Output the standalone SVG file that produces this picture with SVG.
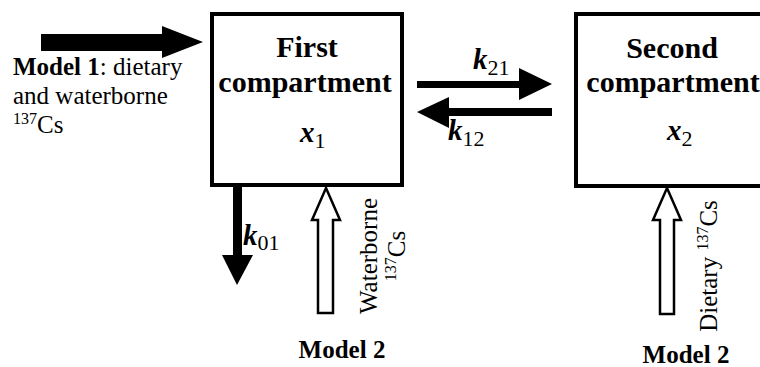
<svg xmlns="http://www.w3.org/2000/svg" width="760" height="367" viewBox="0 0 760 367" font-family="'Liberation Serif', 'DejaVu Serif', serif">
<style>
text{font-family:'Liberation Serif','DejaVu Serif',serif;fill:#000}
.box{fill:#fff;stroke:#000;stroke-width:4}
.lbl{font-size:30px;font-weight:bold;text-anchor:middle}
.txt{font-size:25px}
.var{font-size:29px;font-weight:bold;font-style:italic}
.sub{font-size:22px;font-weight:normal;font-style:normal}
.solid{fill:#000;stroke:none}
.hollow{fill:#fff;stroke:#000;stroke-width:2.5;stroke-linejoin:miter}
</style>
<rect width="760" height="367" fill="#fff"/>
<g id="connectors">
  <polygon class="solid" points="41,34 162,34 162,26 203,42 162,58 162,51 41,51"/>
  <polygon class="solid" points="417,81 519,81 519,68 552,84 519,100 519,88 417,88"/>
  <polygon class="solid" points="552,108 449,108 449,97 417,112 449,128 449,116 552,116"/>
  <polygon class="solid" points="233,185 242,185 242,255 253,255 237,285 222,255 233,255"/>
  <polygon class="hollow" points="326,188 340,220 333,220 333,313 318,313 318,220 312,220"/>
  <polygon class="hollow" points="667,188 681,220 674,220 674,314 660,314 660,220 653,220"/>
  <text class="var" x="473" y="69">k<tspan class="sub" dy="6">21</tspan></text>
  <text class="var" x="448" y="140">k<tspan class="sub" dy="6">12</tspan></text>
  <text class="var" x="243" y="245">k<tspan class="sub" dy="5">01</tspan></text>
</g>
<g id="model1-input">
  <text class="txt" x="13" y="75"><tspan font-weight="bold">Model 1</tspan>: dietary</text>
  <text class="txt" x="13" y="104">and waterborne</text>
  <text class="txt" x="13" y="133"><tspan font-size="16" dy="-9">137</tspan><tspan dy="9">Cs</tspan></text>
</g>
<g id="first-compartment">
  <rect class="box" x="212" y="14" width="190" height="171"/>
  <text class="lbl" x="307" y="57">First</text>
  <text class="lbl" x="305" y="92">compartment</text>
  <text class="var" x="300" y="142">x<tspan class="sub" dy="6">1</tspan></text>
</g>
<g id="second-compartment">
  <rect class="box" x="576" y="14" width="200" height="172"/>
  <text class="lbl" x="672" y="58">Second</text>
  <text class="lbl" x="673" y="92">compartment</text>
  <text class="var" x="667" y="140">x<tspan class="sub" dy="6">2</tspan></text>
</g>
<g id="waterborne-input">
  <g transform="translate(377,256) rotate(-90)">
    <text class="txt" x="0" y="0" text-anchor="middle">Waterborne</text>
    <text class="txt" x="0" y="28" text-anchor="middle"><tspan font-size="16" dy="-9">137</tspan><tspan dy="9">Cs</tspan></text>
  </g>
  <text class="txt" x="342" y="358" text-anchor="middle" font-weight="bold" font-size="24">Model 2</text>
</g>
<g id="dietary-input">
  <g transform="translate(717,266) rotate(-90)">
    <text class="txt" x="0" y="0" text-anchor="middle">Dietary <tspan font-size="16" dy="-9">137</tspan><tspan dy="9">Cs</tspan></text>
  </g>
  <text class="txt" x="686" y="363" text-anchor="middle" font-weight="bold" font-size="24">Model 2</text>
</g>
</svg>
